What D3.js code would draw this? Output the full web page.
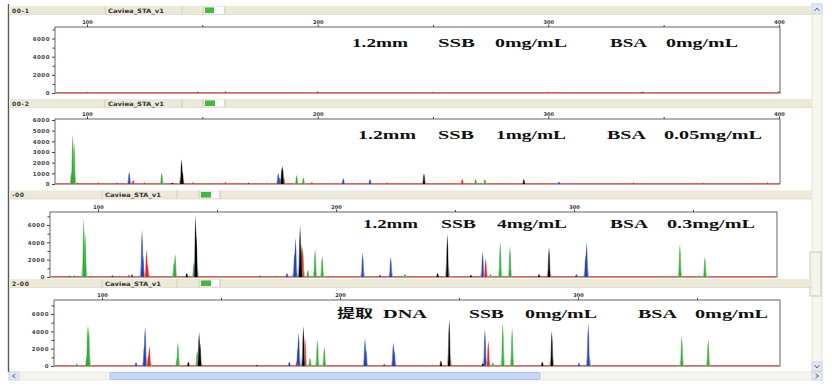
<!DOCTYPE html>
<html>
<head>
<meta charset="utf-8">
<script src="https://cdn.jsdelivr.net/npm/d3@7"></script>
<style>
body { margin: 0; background: #fff; }
svg { display: block; }
</style>
</head>
<body>
<svg id="chart" width="832" height="388"></svg>
<script>
// header names of each panel
const panelNames = ["00-1", "00-2", "-00", "2-00"];
const panelTitles = ["Caviea_STA_v1", "Caviea_STA_v1", "Caviea_STA_v1", "Caviea_STA_v1"];

// size axis (bp) and rfu axis ticks
const sizeTicks = [100, 200, 300, 400];
const sizeMinorTicks = [150, 250, 350];
const rfuTicks = [0, 2000, 4000, 6000];
const rfuTicksFine = [0, 1000, 2000, 3000, 4000, 5000, 6000];
const rfuMinorTicks = [1000, 3000, 5000, 7000];

// condition text in each panel
const labels1 = ["1.2mm", "SSB", "0mg/mL", "BSA", "0mg/mL"];
const labels2 = ["1.2mm", "SSB", "1mg/mL", "BSA", "0.05mg/mL"];
const labels3 = ["1.2mm", "SSB", "4mg/mL", "BSA", "0.3mg/mL"];
const labels4 = ["提取", "DNA", "SSB", "0mg/mL", "BSA", "0mg/mL"];

// peaks: [size bp, height rfu, dye]
const peaks1 = [
    [100, 150, "red"], [148, 80, "black"], [160, 200, "red"], [200, 180, "red"],
    [250, 150, "red"], [300, 130, "red"], [340, 110, "red"], [341, 80, "black"], [400, 220, "red"]
];
const peaks2 = [
    [93.3, 1100, "green"], [93.8, 4670, "green"], [94.4, 3950, "green"], [96, 150, "red"],
    [105, 150, "red"], [110, 130, "green"], [113, 120, "blue"],
    [118.3, 1150, "blue"], [120, 380, "red"], [125, 140, "red"],
    [132.4, 1060, "green"], [137, 120, "black"],
    [140.6, 700, "green"], [141, 2340, "black"], [141.4, 1200, "black"],
    [146, 160, "red"], [150, 120, "green"], [160, 170, "red"], [170, 120, "blue"], [178, 140, "green"],
    [182.9, 1060, "blue"], [183.6, 600, "blue"], [184.5, 1500, "black"], [184.8, 1710, "black"], [185.3, 680, "red"],
    [190.9, 840, "green"], [193.8, 590, "green"], [197.5, 160, "red"],
    [205, 120, "green"], [211.1, 530, "blue"], [215, 100, "red"], [222.7, 470, "blue"], [230, 130, "red"],
    [246.1, 1000, "black"], [262.7, 470, "red"], [268.5, 470, "green"], [272.5, 470, "green"],
    [289.4, 470, "black"], [304.6, 200, "blue"], [337, 150, "red"], [367, 120, "red"], [395, 150, "red"]
];
const peaks3 = [
    [88, 150, "blue"], [90, 200, "green"], [94.0, 6690, "green"], [94.6, 5000, "green"],
    [101, 150, "green"], [106, 200, "blue"], [109, 150, "green"], [113, 250, "red"], [114.3, 350, "blue"],
    [118.5, 5420, "blue"], [118.9, 2500, "blue"], [120.4, 3110, "red"], [120.8, 1500, "red"], [121.5, 250, "green"],
    [132.0, 1800, "green"], [132.4, 2650, "green"],
    [137.3, 460, "black"], [140.3, 1700, "green"], [141.0, 7150, "black"], [141.3, 4800, "black"],
    [152, 120, "green"], [168, 150, "blue"], [175, 120, "blue"],
    [179.4, 460, "blue"], [182.6, 2800, "blue"], [183.0, 4500, "blue"], [184.9, 5880, "black"], [185.3, 3800, "black"],
    [186.0, 3500, "red"], [186.3, 250, "red"], [188.2, 800, "green"], [191.2, 3230, "green"], [194.2, 2420, "green"], [199, 150, "green"],
    [211.2, 2800, "blue"], [215, 120, "green"], [218.5, 250, "blue"], [223.0, 2340, "blue"], [229, 350, "green"],
    [242.7, 460, "black"], [246.8, 4920, "black"], [256.7, 230, "black"], [261.6, 2920, "blue"], [262.9, 2150, "red"],
    [264.9, 350, "green"], [269.0, 4070, "green"], [273.1, 3580, "green"], [285.3, 350, "black"], [289.5, 3420, "black"],
    [301.0, 310, "blue"], [304.9, 2500, "blue"], [305.3, 3990, "blue"],
    [341.2, 150, "green"], [344.5, 3800, "green"], [352.4, 150, "green"], [355.0, 2340, "green"]
];
const peaks4 = [
    [89.4, 300, "green"], [93.6, 1000, "green"], [94.0, 4610, "green"], [94.4, 4610, "green"],
    [114.3, 430, "blue"], [117.8, 2500, "blue"], [118.1, 4530, "blue"], [119.5, 1300, "red"], [119.9, 2300, "red"], [120.3, 400, "green"],
    [131.6, 1000, "green"], [131.9, 2730, "green"], [136.3, 500, "black"], [140.0, 1770, "green"], [140.8, 3880, "black"], [141.2, 2600, "black"],
    [165, 120, "black"],
    [178.7, 500, "blue"], [181.8, 400, "red"], [182.3, 2100, "blue"], [182.6, 3840, "blue"], [184.6, 4610, "black"],
    [185.3, 3270, "red"], [187.4, 960, "green"], [190.5, 3000, "green"], [193.4, 2230, "green"],
    [210.5, 3190, "blue"], [210.9, 2000, "blue"], [218.6, 230, "blue"], [222.4, 2690, "blue"], [222.8, 1800, "blue"],
    [238.8, 150, "green"], [242.4, 610, "black"], [245.9, 5390, "black"], [260.0, 310, "black"], [260.9, 4230, "blue"],
    [262.3, 2920, "red"], [264.2, 400, "green"], [268.4, 5000, "green"], [272.3, 4420, "green"],
    [285.0, 500, "black"], [289.0, 4040, "black"], [300.4, 380, "blue"], [304.3, 4920, "blue"], [304.7, 1000, "green"],
    [340.2, 150, "green"], [343.6, 3460, "green"], [351.3, 150, "green"], [354.7, 3110, "green"]
];

const dyeOrder = ["green", "blue", "red", "black"];
const dyeColor = {green: "#34a83a", blue: "#2646ad", red: "#e5231d", black: "#000000"};
const haloColor = {green: "#86d08a", blue: "#7d93d6", red: "#f08884", black: "#8a8a8a"};

// screen layout of the four panels
const layout = [
    {head: 6, top: 27, bottom: 93, left: 55, right: 780, x100: 87, x300: 548.3, y0: 93, y6000: 38.5,
        cells: [105, 182, 203, 225], green: [205, 214], base: 47,
        words: [[352, 56], [438, 37], [495, 72], [610, 37], [666, 72]]},
    {head: 99, top: 119, bottom: 184, left: 55, right: 780, x100: 87, x300: 548.3, y0: 184, y6000: 120,
        cells: [105, 182, 203, 225], green: [205, 215], base: 139,
        words: [[358, 58], [438, 36], [496, 70], [607, 39], [664, 98]]},
    {head: 190.5, top: 212, bottom: 277, left: 50, right: 777, x100: 98, x300: 574, y0: 277, y6000: 225,
        cells: [102, 177, 199, 220], green: [201, 211], base: 228,
        words: [[363, 55], [441, 35], [497, 70], [610, 38], [667, 88]]},
    {head: 279, top: 300, bottom: 366, left: 54, right: 780, x100: 102, x300: 578, y0: 366, y6000: 314,
        cells: [102, 177, 199, 220], green: [201, 211], base: 318,
        words: [[337, 36], [383, 44], [469, 35], [525, 72], [638, 39], [695, 73]]}
];

const allPeaks = [peaks1, peaks2, peaks3, peaks4];
const allLabels = [labels1, labels2, labels3, labels4];
const fineRfu = [false, true, false, false];

const svg = d3.select("#chart");

// window frame: scrollbars and left border
svg.append("rect").attr("x", 812).attr("y", 4).attr("width", 10).attr("height", 368)
    .attr("fill", "#f6f5f0").attr("stroke", "#dcd9cc").attr("stroke-width", 0.6);
svg.append("rect").attr("x", 812).attr("y", 4).attr("width", 10).attr("height", 10)
    .attr("fill", "#e4e9f6").attr("stroke", "#b7c3df").attr("stroke-width", 0.6);
svg.append("path").attr("d", "M814.5,11 L817,8 L819.5,11").attr("fill", "none").attr("stroke", "#4d6185");
svg.append("rect").attr("x", 810).attr("y", 252).attr("width", 11).attr("height", 44)
    .attr("fill", "#f4f3ee").attr("stroke", "#c4c0b2").attr("stroke-width", 0.8);
svg.append("rect").attr("x", 812).attr("y", 362).attr("width", 10).attr("height", 9)
    .attr("fill", "#e4e9f6").attr("stroke", "#b7c3df").attr("stroke-width", 0.6);
svg.append("path").attr("d", "M814.5,365 L817,368 L819.5,365").attr("fill", "none").attr("stroke", "#4d6185");

svg.append("rect").attr("x", 9).attr("y", 372).attr("width", 813).attr("height", 8)
    .attr("fill", "#f5f4ef").attr("stroke", "#dcd9cc").attr("stroke-width", 0.6);
svg.append("rect").attr("x", 9).attr("y", 372).attr("width", 10).attr("height", 8)
    .attr("fill", "#e4e9f6").attr("stroke", "#b7c3df").attr("stroke-width", 0.6);
svg.append("path").attr("d", "M15.5,374 L12.5,376 L15.5,378").attr("fill", "none").attr("stroke", "#4d6185");
svg.append("rect").attr("x", 110).attr("y", 372.5).attr("width", 430).attr("height", 7)
    .attr("rx", 1.5).attr("fill", "#c6d7f7").attr("stroke", "#9db4e2").attr("stroke-width", 0.7);
svg.append("rect").attr("x", 812).attr("y", 372).attr("width", 10).attr("height", 8)
    .attr("fill", "#e4e9f6").attr("stroke", "#b7c3df").attr("stroke-width", 0.6);
svg.append("path").attr("d", "M815.5,374 L818.5,376 L815.5,378").attr("fill", "none").attr("stroke", "#4d6185");

svg.append("line").attr("x1", 8.5).attr("x2", 8.5).attr("y1", 4).attr("y2", 372)
    .attr("stroke", "#5a5a5a").attr("stroke-width", 1.4);

// narrow spike drawn around a peak position
function peakPath(x, yb, yt, w) {
    const h = yt - yb;
    return `M${x - 3 * w},${yb} L${x - 1.8 * w},${yb + 0.25 * h} L${x - 1.1 * w},${yb + 0.7 * h} L${x},${yt} ` +
        `L${x + 1.1 * w},${yb + 0.7 * h} L${x + 1.8 * w},${yb + 0.25 * h} L${x + 3 * w},${yb} Z`;
}

layout.forEach((p, i) => {
    const g = svg.append("g");
    const x = d3.scaleLinear().domain([100, 300]).range([p.x100, p.x300]);
    const y = d3.scaleLinear().domain([0, 6000]).range([p.y0, p.y6000]);

    // header bar
    g.append("rect").attr("x", 9).attr("y", p.head).attr("width", 803).attr("height", 8.5)
        .attr("fill", "#ece9d8");
    g.append("line").attr("x1", 9).attr("x2", 812).attr("y1", p.head + 8.5).attr("y2", p.head + 8.5)
        .attr("stroke", "#d6d2c2").attr("stroke-width", 0.6);
    p.cells.forEach(cx => {
        g.append("line").attr("x1", cx).attr("x2", cx).attr("y1", p.head).attr("y2", p.head + 8.5)
            .attr("stroke", "#c9c5b5").attr("stroke-width", 0.8);
    });
    g.append("rect").attr("x", p.green[1]).attr("y", p.head + 1).attr("width", p.cells[3] - p.green[1] - 1)
        .attr("height", 6.5).attr("fill", "#fff");
    g.append("rect").attr("x", p.green[0]).attr("y", p.head + 1.5).attr("width", p.green[1] - p.green[0])
        .attr("height", 5.5).attr("fill", "#45b649");
    g.append("text").attr("x", 12).attr("y", p.head + 6.5).text(panelNames[i])
        .attr("font-family", "DejaVu Sans, sans-serif").attr("font-size", 6).attr("font-weight", "bold")
        .attr("fill", "#333").attr("letter-spacing", 0.6);
    g.append("text").attr("x", p.cells[0] + 3).attr("y", p.head + 6.5).text(panelTitles[i])
        .attr("font-family", "DejaVu Sans, sans-serif").attr("font-size", 6).attr("font-weight", "bold")
        .attr("fill", "#333").attr("textLength", 56).attr("lengthAdjust", "spacingAndGlyphs");

    // plot frame
    g.append("rect").attr("x", p.left).attr("y", p.top).attr("width", p.right - p.left)
        .attr("height", p.bottom - p.top).attr("fill", "#fff").attr("stroke", "#555").attr("stroke-width", 0.9);

    // top size axis
    const inside = v => x(v) <= p.right + 1;
    const topAxis = d3.axisTop(x).tickValues(sizeTicks.filter(inside)).tickSize(2.5).tickPadding(1);
    const topMinor = d3.axisTop(x).tickValues(sizeMinorTicks.filter(inside)).tickSize(2).tickFormat("");
    [topAxis, topMinor].forEach(ax => {
        const a = g.append("g").attr("transform", `translate(0,${p.top})`).call(ax);
        a.select(".domain").remove();
        a.selectAll("line").attr("stroke", "#444");
        a.selectAll("text").attr("font-family", "DejaVu Sans, sans-serif").attr("font-size", 5)
            .attr("font-weight", "bold").attr("fill", "#333");
    });

    // left rfu axis
    const major = fineRfu[i] ? rfuTicksFine : rfuTicks;
    const leftAxis = d3.axisLeft(y).tickValues(major).tickSize(3).tickPadding(2).tickFormat(d3.format("d"));
    const leftMinor = d3.axisLeft(y).tickValues(fineRfu[i] ? [] : rfuMinorTicks.filter(v => y(v) >= p.top - 0.5))
        .tickSize(2.5).tickFormat("");
    [leftAxis, leftMinor].forEach(ax => {
        const a = g.append("g").attr("transform", `translate(${p.left},0)`).call(ax);
        a.select(".domain").remove();
        a.selectAll("line").attr("stroke", "#444");
        a.selectAll("text").attr("font-family", "DejaVu Sans, sans-serif").attr("font-size", 5.5)
            .attr("font-weight", "bold").attr("fill", "#444").attr("letter-spacing", 0.5);
    });

    // baseline trace
    g.append("line").attr("x1", p.left + 1).attr("x2", p.right - 1).attr("y1", y(40)).attr("y2", y(40))
        .attr("stroke", "#e8534e").attr("stroke-width", 1.2).attr("opacity", 0.85);

    // peaks
    const pk = g.append("g");
    dyeOrder.forEach(dye => {
        const list = allPeaks[i].filter(d => d[2] === dye);
        pk.selectAll(null).data(list).join("path")
            .attr("d", d => peakPath(x(d[0]), y(0), y(d[1]), 0.85))
            .attr("fill", haloColor[dye]).attr("opacity", 0.7);
        pk.selectAll(null).data(list).join("path")
            .attr("d", d => peakPath(x(d[0]), y(0), y(d[1]), 0.42))
            .attr("fill", dyeColor[dye]);
    });

    // condition labels
    allLabels[i].forEach((word, k) => {
        const pos = p.words[k];
        const cjk = /[\u4e00-\u9fff]/.test(word);
        g.append("text").attr("x", pos[0]).attr("y", p.base).text(word)
            .attr("font-family", cjk ? "Noto Sans CJK SC, sans-serif" : "Liberation Serif, serif")
            .attr("font-weight", "bold").attr("font-size", cjk ? 12 : 11.5).attr("fill", "#111")
            .attr("textLength", pos[1]).attr("lengthAdjust", "spacingAndGlyphs");
    });
});
</script>
</body>
</html>
